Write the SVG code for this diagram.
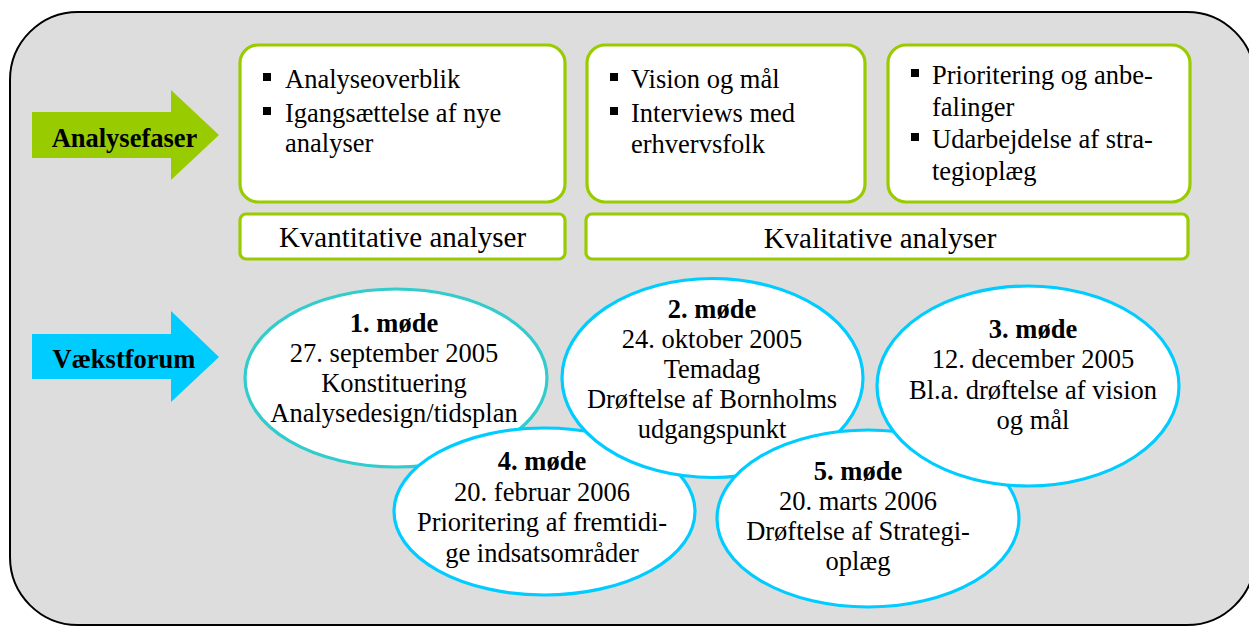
<svg xmlns="http://www.w3.org/2000/svg" width="1249" height="626" viewBox="0 0 1249 626">
<style>
text{font-family:'Liberation Serif',serif;font-size:26.5px;fill:#000}
.b{font-weight:bold}
.c{text-anchor:middle}
.lbl{font-size:29px}
.box{fill:#fff;stroke:#99CC00;stroke-width:3.2}
.ell{fill:#fff;stroke:#00CCFF;stroke-width:3.2}
.ell1{fill:#fff;stroke:#33CCCC;stroke-width:3.2}
.bul{fill:#000}
</style>
<rect id="background" x="10" y="12" width="1245" height="613" rx="68" ry="68" fill="#DDDDDD" stroke="#000" stroke-width="2"/>
<g id="arrow-analysefaser">
<polygon points="32,112 171,112 171,90 219,135 171,180 171,158 32,158" fill="#99CC00"/>
<text class="b c" x="124.5" y="147">Analysefaser</text>
</g>
<g id="arrow-vaekstforum">
<polygon points="32,334 171,334 171,311 219,357 171,402 171,379 32,379" fill="#00CCFF"/>
<text class="b c" x="124" y="368">Vækstforum</text>
</g>
<g id="box1">
<rect class="box" x="240" y="45" width="325" height="157" rx="18"/>
<rect class="bul" x="263" y="73" width="8" height="8"/>
<text x="285" y="87.5">Analyseoverblik</text>
<rect class="bul" x="263" y="107" width="8" height="8"/>
<text x="285" y="121.5">Igangsættelse af nye</text>
<text x="285" y="152">analyser</text>
</g>
<g id="box2">
<rect class="box" x="587" y="45" width="278" height="157" rx="18"/>
<rect class="bul" x="610" y="73" width="8" height="8"/>
<text x="631" y="87.5">Vision og mål</text>
<rect class="bul" x="610" y="107" width="8" height="8"/>
<text x="631" y="121.5">Interviews med</text>
<text x="631" y="152.5">erhvervsfolk</text>
</g>
<g id="box3">
<rect class="box" x="888" y="45" width="302" height="157" rx="18"/>
<rect class="bul" x="911" y="69" width="8" height="8"/>
<text x="932" y="84">Prioritering og anbe-</text>
<text x="932" y="115.5">falinger</text>
<rect class="bul" x="911" y="133" width="8" height="8"/>
<text x="932" y="148">Udarbejdelse af stra-</text>
<text x="932" y="180">tegioplæg</text>
</g>
<g id="kvantitative">
<rect class="box" x="240" y="214" width="325" height="45" rx="6"/>
<text class="lbl c" x="402.5" y="247">Kvantitative analyser</text>
</g>
<g id="kvalitative">
<rect class="box" x="586" y="214" width="602" height="45" rx="6"/>
<text class="lbl c" x="880" y="247.5">Kvalitative analyser</text>
</g>
<g id="moede1">
<ellipse class="ell1" cx="396" cy="378" rx="151" ry="89"/>
<text class="c b" x="394" y="332">1. møde</text>
<text class="c" x="394" y="362">27. september 2005</text>
<text class="c" x="394" y="392">Konstituering</text>
<text class="c" x="394" y="422">Analysedesign/tidsplan</text>
</g>
<g id="moede4">
<ellipse class="ell" cx="544.5" cy="511.5" rx="150.5" ry="83.5"/>
<text class="c b" x="542" y="470">4. møde</text>
<text class="c" x="542" y="501">20. februar 2006</text>
<text class="c" x="542" y="531">Prioritering af fremtidi-</text>
<text class="c" x="542" y="562">ge indsatsområder</text>
</g>
<g id="moede2">
<ellipse class="ell" cx="712.5" cy="378" rx="150.5" ry="99.5"/>
<text class="c b" x="712" y="318">2. møde</text>
<text class="c" x="712" y="348">24. oktober 2005</text>
<text class="c" x="712" y="378">Temadag</text>
<text class="c" x="712" y="408">Drøftelse af Bornholms</text>
<text class="c" x="712" y="438">udgangspunkt</text>
</g>
<g id="moede5">
<ellipse class="ell" cx="868" cy="518.5" rx="151" ry="88.5"/>
<text class="c b" x="858" y="480">5. møde</text>
<text class="c" x="858" y="510">20. marts 2006</text>
<text class="c" x="858" y="540">Drøftelse af Strategi-</text>
<text class="c" x="858" y="570">oplæg</text>
</g>
<g id="moede3">
<ellipse class="ell" cx="1028" cy="386" rx="151" ry="100"/>
<text class="c b" x="1033" y="338">3. møde</text>
<text class="c" x="1033" y="368">12. december 2005</text>
<text class="c" x="1033" y="399">Bl.a. drøftelse af vision</text>
<text class="c" x="1033" y="429">og mål</text>
</g>
<g id="connectors"></g>
</svg>
